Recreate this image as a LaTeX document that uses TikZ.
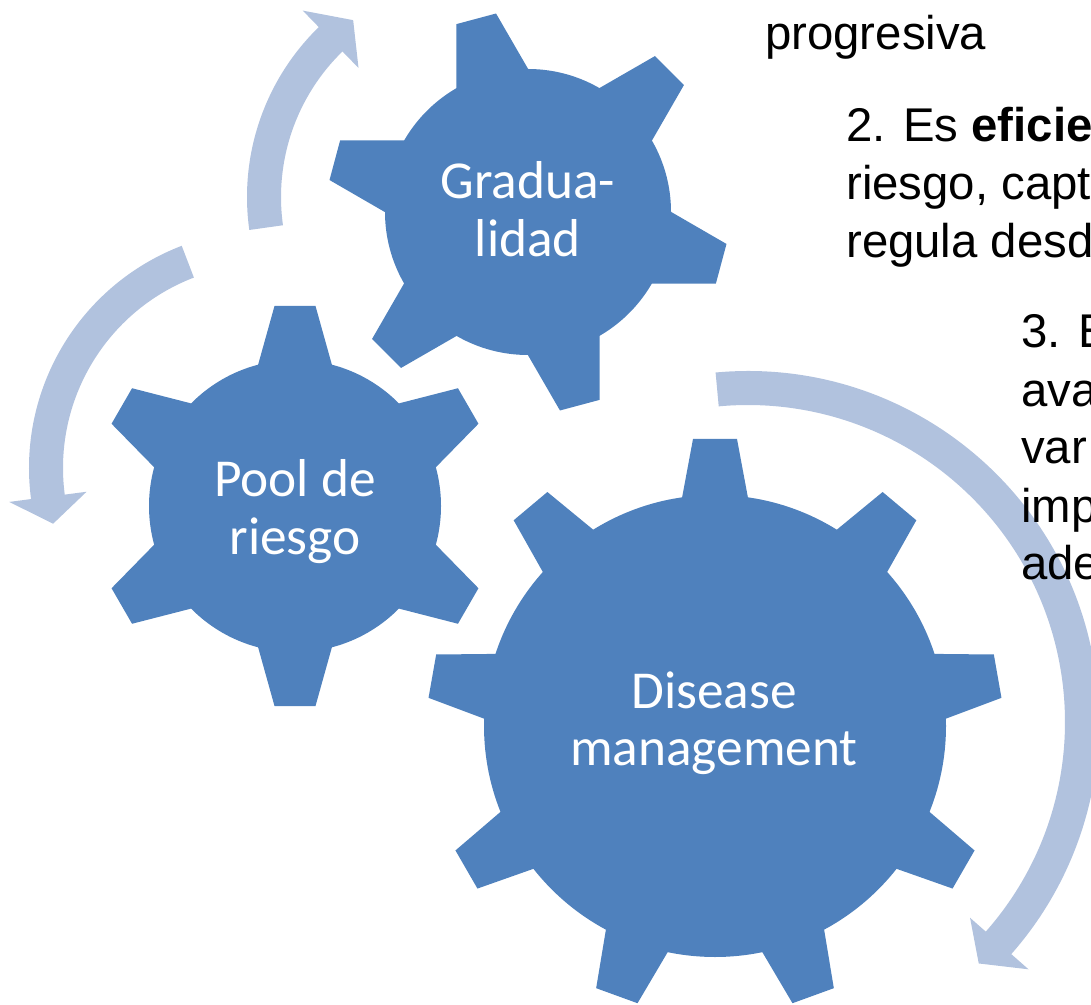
\documentclass[tikz,border=0pt]{standalone}
\usepackage{fontspec}
\setmainfont{Liberation Sans}
\newfontfamily\gearfont{Carlito}
\usetikzlibrary{calc}
\definecolor{gearblue}{RGB}{79,129,189}
\definecolor{arrowblue}{RGB}{177,194,222}
\begin{document}
\begin{tikzpicture}[x=0.75pt,y=0.75pt,
  gearfill/.style={fill=gearblue},
  arrowfill/.style={fill=arrowblue},
  geartext/.style={font=\gearfont\fontsize{40}{48}\selectfont,text=white,inner sep=0pt,anchor=base},
  bodytext/.style={font=\fontsize{35.5}{43}\selectfont,text=black,inner sep=0pt,anchor=base west}]
\useasboundingbox (0,0) rectangle (1091,1004);
\clip (0,0) rectangle (1091,1004);

% ---- curved arrows ----
\coordinate (ca) at (484,807);
\fill[arrowfill] ($(ca)+(188:237)$) arc[start angle=188,end angle=134.2,radius=237]
  -- ($(ca)+(134.2:260)$) -- ($(ca)+(126.5:220)$) -- ($(ca)+(134.2:180)$)
  -- ($(ca)+(134.2:203)$) arc[start angle=134.2,end angle=188,radius=203] -- cycle;

\coordinate (cb) at (267,536);
\fill[arrowfill] ($(cb)+(111:238)$) arc[start angle=111,end angle=187.5,radius=238]
  -- ($(cb)+(187.5:260)$) -- ($(cb)+(194.6:221)$) -- ($(cb)+(187.5:182)$)
  -- ($(cb)+(187.5:204)$) arc[start angle=187.5,end angle=111,radius=204] -- cycle;

\coordinate (cc) at (748,282);
\fill[arrowfill] ($(cc)+(95.3:351)$) arc[start angle=95.3,end angle=-41.4,radius=351]
  -- ($(cc)+(-41.4:374)$) -- ($(cc)+(-46.3:334)$) -- ($(cc)+(-41.4:296)$)
  -- ($(cc)+(-41.4:317)$) arc[start angle=-41.4,end angle=95.3,radius=317] -- cycle;

% ---- gears ----
\begin{scope}[shift={(528,792)}]
  \fill[gearfill] (0,0) circle[radius=143];
  \foreach \a in {45,105,165,225,285,345}
    \fill[gearfill,rotate=\a] (120,-42) -- (200,-20.5) -- (200,20.5) -- (120,42) -- cycle;
\end{scope}
\begin{scope}[shift={(295,498)}]
  \fill[gearfill] (0,0) circle[radius=146];
  \foreach \a in {30,90,150,210,270,330}
    \fill[gearfill,rotate=\a] (123,-42) -- (200,-20.5) -- (200,20.5) -- (123,42) -- cycle;
\end{scope}
\begin{scope}[shift={(715,278)}]
  \fill[gearfill] (0,0) circle[radius=231];
  \foreach \a in {10,50,...,330}
    \fill[gearfill,rotate=\a] (205,-37.3) -- (287,-22) -- (287,22) -- (205,37.3) -- cycle;
\end{scope}

% ---- gear labels ----
\node[geartext] (g1a) at (528,805) {Gradua-};
\node[geartext] (g1b) at (528,747) {lidad};
\node[geartext] (g2a) at (295,508) {Pool de};
\node[geartext] (g2b) at (295,450) {riesgo};
\node[geartext] (g3a) at (714,296) {Disease};
\node[geartext] (g3b) at (714,239) {management};

% ---- side text ----
\node[bodytext] (t1) at (765,954) {progresiva};
\node[bodytext] (t2a) at (846,862) {2. Es \textbf{eficie}};
\node[bodytext] (t2b) at (846,804) {riesgo, capt};
\node[bodytext] (t2c) at (846,746) {regula desd};
\node[bodytext] (t3a) at (1021,656) {3. E};
\node[bodytext] (t3b) at (1021,597) {ava};
\node[bodytext] (t3c) at (1021,540) {var};
\node[bodytext] (t3d) at (1021,482) {imp};
\node[bodytext] (t3e) at (1021,425) {ade};
\end{tikzpicture}
\end{document}
